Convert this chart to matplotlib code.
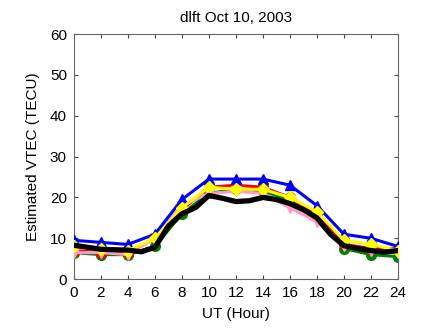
import matplotlib
matplotlib.use("Agg")
import matplotlib.pyplot as plt

hours = [0, 2, 4, 6, 8, 10, 12, 14, 16, 18, 20, 22, 24]
blue = [9.5, 9.0, 8.5, 11.0, 19.5, 24.5, 24.5, 24.5, 23.0, 18.0, 11.0, 10.0, 8.0]
red = [7.0, 6.5, 6.5, 10.0, 17.0, 22.5, 23.0, 22.5, 20.0, 16.0, 8.5, 7.5, 7.5]
green = [6.5, 6.0, 6.0, 8.0, 16.0, 21.0, 22.0, 21.5, 19.5, 16.0, 7.5, 6.0, 5.5]
pink = [6.5, 6.5, 6.0, 10.0, 18.0, 21.0, 21.5, 21.0, 17.5, 14.0, 8.0, 7.0, 6.5]
yellow = [8.0, 7.5, 7.0, 10.0, 17.5, 22.5, 22.0, 22.0, 20.0, 16.5, 9.5, 8.5, 7.0]

hours_fine = list(range(0, 25))
black = [8.3, 7.8, 7.3, 7.2, 7.1, 6.7, 7.8, 13.0, 16.0, 17.5, 20.5, 19.8, 19.0,
         19.2, 20.0, 19.5, 18.5, 17.0, 15.0, 11.0, 8.2, 7.5, 7.0, 6.6, 7.0]

xticks = list(range(0, 25, 2))
yticks = list(range(0, 61, 10))

plt.rcParams['font.family'] = ['Liberation Sans', 'DejaVu Sans']
fig = plt.figure(figsize=(4.27, 3.28), dpi=100)
ax = fig.add_axes([0.173, 0.149, 0.759, 0.747])

lw = 2.2
ax.plot(hours, green, color='#008000', lw=lw, marker='o', ms=7, zorder=2)
ax.plot(hours, red, color='#ff0000', lw=lw, marker='o', ms=7, zorder=3)
ax.plot(hours, pink, color='#ff99cc', lw=lw, marker='v', ms=7, zorder=4)
ax.plot(hours, blue, color='#0000ff', lw=lw, marker='^', ms=7, zorder=5)
ax.plot(hours, yellow, color='#ffff00', lw=lw, marker='D', ms=6.5, zorder=6)
ax.plot(hours_fine, black, color='black', lw=3.8, zorder=7)

ax.set_xlim(0, 24)
ax.set_ylim(0, 60)
ax.set_xticks(xticks)
ax.set_yticks(yticks)
ax.tick_params(direction='in', top=True, right=True, labelsize=11, length=3,
               color='#444444')
ax.tick_params(axis='x', pad=5)
ax.tick_params(axis='y', pad=5)
for s in ax.spines.values():
    s.set_color('#666666')
    s.set_linewidth(0.8)
ax.set_xlabel('UT (Hour)', fontsize=11, labelpad=5)
ax.set_ylabel('Estimated VTEC (TECU)', fontsize=11, labelpad=7)
ax.set_title('dlft Oct 10, 2003', fontsize=11, pad=9)

fig.savefig('out.png', dpi=100)
